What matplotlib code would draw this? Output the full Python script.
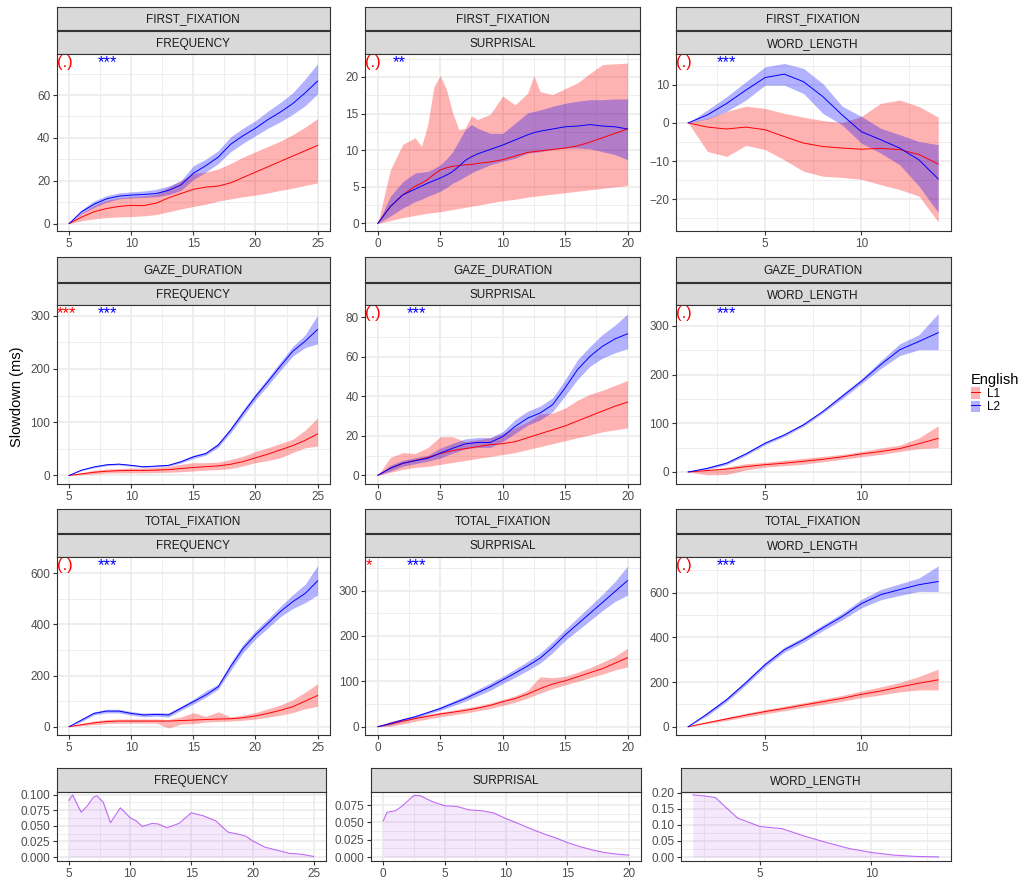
import numpy as np
import matplotlib.pyplot as plt
from matplotlib.lines import Line2D
from matplotlib.patches import Patch
from matplotlib.ticker import MultipleLocator, FormatStrFormatter

plt.rcParams['font.family'] = ['Liberation Sans', 'DejaVu Sans']

# ---------------- data ----------------
freq_x = list(range(5, 26))
surp_x = list(range(0, 21))
wlen_x = list(range(1, 15))
ff_surp_x = [0, 1, 2, 3, 3.5, 4, 4.5, 5, 5.5, 6, 6.5, 7, 7.5, 8, 9, 10, 11, 12, 12.5, 13, 14, 15, 16, 17, 18, 19, 20]

# FIRST_FIXATION
ff_freq_l1 = [0, 3, 5.5, 7, 8, 8.5, 8.4, 9.5, 12, 14, 16, 17, 17.5, 19, 21.5, 24, 26.5, 29, 31.5, 34, 36.5]
ff_freq_l1_lo = [0, 1.3, 2.2, 2.8, 3.1, 3.3, 3.6, 4.2, 5.5, 6.8, 8, 9, 10.5, 11.5, 12.5, 13.3, 14.3, 15.5, 16.5, 17.8, 19]
ff_freq_l1_hi = [0, 4.8, 8.5, 10.8, 12, 12.6, 13, 13.6, 17, 20, 23.5, 24, 25.5, 28, 31, 33.5, 36, 38.5, 41.5, 45, 49]
ff_freq_l2 = [0, 5.5, 9, 11.5, 12.8, 13.3, 13.6, 14, 15.5, 18, 23.5, 27, 31, 37, 41, 44.5, 48.5, 52, 56, 61, 66.5]
ff_freq_l2_lo = [0, 4.5, 7.5, 10, 11.5, 12, 12.2, 12.5, 13.5, 15.5, 20.5, 24, 28, 33.5, 37.5, 41, 44.5, 47.5, 51, 55, 60.5]
ff_freq_l2_hi = [0, 6.5, 10.5, 13, 14.3, 14.8, 15.2, 16, 17.5, 20, 27, 30, 34, 40.5, 44.5, 48, 52.5, 56.5, 61, 67.5, 74.5]

ff_surp_l1 = [0, 2.3, 3.9, 5.1, 5.5, 6, 6.7, 7.3, 7.6, 7.8, 7.9, 8, 8.05, 8.2, 8.4, 8.7, 9.2, 9.7, 9.8, 9.9, 10.1, 10.3, 10.6, 11.1, 11.7, 12.3, 12.9]
ff_surp_l1_lo = [0, 0.4, 0.8, 1.1, 1.25, 1.4, 1.5, 1.6, 1.75, 1.9, 2.05, 2.2, 2.35, 2.5, 2.8, 3.1, 3.3, 3.6, 3.7, 3.8, 4, 4.2, 4.4, 4.6, 4.8, 5, 5.2]
ff_surp_l1_hi = [0, 7.3, 10.8, 11.7, 10.5, 13.5, 18.7, 20.2, 18.3, 15.1, 12.8, 13, 14.7, 14.2, 14.9, 17.4, 16.2, 17.8, 20.2, 18, 17.6, 18.4, 19.2, 20.5, 21.7, 21.8, 21.9]
ff_surp_l2 = [0, 2.3, 3.9, 4.7, 5.1, 5.5, 5.85, 6.2, 6.6, 7.1, 7.8, 8.6, 9.1, 9.5, 10.1, 10.7, 11.4, 12.1, 12.4, 12.6, 12.9, 13.2, 13.3, 13.5, 13.3, 13.2, 12.9]
ff_surp_l2_lo = [0, 1, 2.1, 3, 3.3, 3.7, 4.05, 4.4, 4.9, 5.5, 5.9, 6.4, 6.9, 7.3, 8, 8.5, 8.9, 9.6, 9.7, 9.8, 10.1, 10.3, 10.3, 10.2, 9.8, 9.4, 8.7]
ff_surp_l2_hi = [0, 3.7, 5.7, 6.9, 7, 7.1, 7.5, 8, 8.8, 9.8, 11.3, 12.8, 13.5, 13, 12.3, 12.3, 13.7, 15.1, 15.3, 15.5, 16, 16.4, 16.7, 16.9, 16.9, 17, 17]

ff_wlen_l1 = [0, -1.1, -1.6, -1.1, -1.8, -3.6, -5.3, -6.2, -6.6, -6.9, -6.7, -7, -8.3, -10.8]
ff_wlen_l1_lo = [0, -7.5, -8.8, -5.9, -7, -9.7, -12.7, -14, -14.3, -14.8, -16.2, -17.5, -19.2, -26]
ff_wlen_l1_hi = [0, 1.2, 3, 4.4, 3.8, 2.5, 1.5, 0.6, 0.1, 1.7, 5.1, 6, 4.3, 1.5]
ff_wlen_l2 = [0, 2.1, 5.1, 8.6, 11.9, 12.8, 10.8, 6.9, 2.1, -2.3, -4.4, -6.6, -9.7, -14.7]
ff_wlen_l2_lo = [0, 1, 3, 6, 9.9, 9.9, 7.7, 2.5, -0.5, -5.3, -7.9, -11, -16.6, -23.5]
ff_wlen_l2_hi = [0, 3.4, 6.9, 10.8, 14.7, 15.6, 14.3, 10.3, 4.4, 1.7, -1.4, -3.1, -4.9, -5.7]

# GAZE_DURATION
gd_freq_l1 = [0, 3, 6, 8, 9, 9.5, 9.5, 10, 11, 13, 15, 16.5, 18, 21, 26, 33, 40, 48, 56, 66, 78]
gd_freq_l1_lo = [0, 1.5, 3, 4.5, 5, 5, 5, 5.5, 6, 7, 8.5, 10, 11, 13, 18, 24, 28, 33, 43, 52, 55]
gd_freq_l1_hi = [0, 5, 10, 12, 13, 14, 14, 15, 17, 21, 24, 24, 25, 30, 36, 45, 52, 60, 68, 85, 108]
gd_freq_l2 = [0, 10, 16, 20, 21.3, 19, 16.3, 17.6, 19, 25.7, 35, 41, 57, 85, 117, 148, 176, 205, 233, 252, 274]
gd_freq_l2_lo = [0, 9, 14.5, 18.5, 19.8, 17.5, 15, 16, 17.5, 23.5, 32, 38, 53, 80, 111, 142, 169, 197, 224, 240, 247]
gd_freq_l2_hi = [0, 11, 17.5, 21.5, 22.8, 20.5, 17.5, 19, 21, 28.5, 38, 44, 61, 90, 123, 154, 183, 213, 242, 264, 301]

gd_surp_l1 = [0, 3.5, 6, 7.5, 9, 11, 12.5, 13.5, 14.5, 15.5, 16, 17, 19, 21, 23, 25, 27.5, 30, 32.5, 35, 37]
gd_surp_l1_lo = [0, 1.5, 3, 4, 4.5, 5.5, 6.5, 7.5, 8.5, 9.5, 10.5, 11.5, 13, 14.5, 16, 17.5, 19, 20.5, 22, 23, 24]
gd_surp_l1_hi = [0, 9, 11.5, 11, 14, 19.5, 19.5, 17, 18, 19, 21, 24, 27, 31, 31.5, 34, 38, 41, 43, 45.5, 48]
gd_surp_l2 = [0, 3.6, 6.1, 7.4, 8.6, 11.2, 13.7, 15.9, 16.6, 16.6, 19.6, 24.7, 28.9, 31.5, 35.7, 44.2, 53.5, 60.2, 65.3, 69, 71.6]
gd_surp_l2_lo = [0, 2.1, 4.6, 5.9, 7.1, 8.7, 11.2, 13.4, 14.1, 14.1, 17.1, 21.2, 25.4, 28, 32.2, 40.2, 48.5, 55.2, 59.3, 62, 64]
gd_surp_l2_hi = [0, 5.1, 7.6, 8.9, 10.1, 13.7, 16.2, 18.4, 19.1, 19.1, 22.1, 28.2, 32.4, 35, 39.2, 48.2, 58.5, 65.2, 71.3, 76, 81.6]

gd_wlen_l1 = [0, 3, 6, 11, 15, 18, 22, 26, 31, 37, 42, 48, 58, 69]
gd_wlen_l1_lo = [0, -6, -5, 4, 10, 13, 16, 21, 26, 31, 36, 42, 48, 50]
gd_wlen_l1_hi = [0, 4, 10, 17, 20, 24, 28, 32, 36, 42, 49, 55, 70, 95]
gd_wlen_l2 = [0, 7.5, 18, 37, 59, 76, 97, 124, 155, 186, 220, 251, 268, 286]
gd_wlen_l2_lo = [0, 5, 15, 34, 56, 73, 94, 121, 150, 181, 212, 239, 251, 251]
gd_wlen_l2_hi = [0, 10, 21, 40, 62, 79, 100, 127, 160, 191, 228, 263, 282, 325]

# TOTAL_FIXATION
tf_freq_l1 = [0, 8, 15, 20, 22, 22, 22, 22, 22, 24, 26, 28, 30, 31, 35, 42, 52, 64, 78, 100, 122]
tf_freq_l1_lo = [0, 4, 8, 12, 14, 14, 14, 14, -5, 10, 12, 18, 20, 22, 25, 30, 37, 45, 55, 70, 80]
tf_freq_l1_hi = [0, 12, 22, 28, 30, 30, 30, 30, 28, 38, 55, 40, 58, 38, 45, 55, 70, 85, 105, 135, 168]
tf_freq_l2 = [0, 26, 52, 61, 61, 52, 46, 48, 46, 72, 98, 124, 156, 235, 306, 359, 404, 450, 489, 521, 570]
tf_freq_l2_lo = [0, 20, 46, 54, 54, 45, 39, 41, 38, 64, 89, 115, 146, 220, 290, 343, 386, 430, 462, 485, 515]
tf_freq_l2_hi = [0, 32, 58, 68, 68, 59, 53, 55, 54, 80, 107, 140, 166, 250, 322, 375, 422, 470, 516, 557, 630]

tf_surp_l1 = [0, 6, 12, 18, 23, 28, 32, 36, 41, 47, 55, 62, 72, 84, 94, 101, 110, 119, 128, 140, 152]
tf_surp_l1_lo = [0, 1, 6, 12, 17, 22, 26, 30, 35, 40, 47, 54, 63, 74, 84, 92, 100, 108, 116, 125, 132]
tf_surp_l1_hi = [0, 12, 17, 22, 27, 32, 36, 41, 46, 52, 60, 68, 80, 110, 108, 111, 120, 130, 142, 155, 173]
tf_surp_l2 = [0, 7, 15, 22, 31, 40, 51, 62, 75, 88, 103, 118, 134, 151, 175, 202, 226, 250, 274, 298, 322]
tf_surp_l2_lo = [0, 4, 12, 19, 28, 36, 46, 56, 68, 80, 95, 109, 124, 140, 163, 190, 212, 234, 256, 276, 290]
tf_surp_l2_hi = [0, 10, 18, 25, 34, 44, 56, 68, 82, 96, 111, 127, 144, 162, 187, 214, 240, 266, 292, 320, 354]

tf_wlen_l1 = [0, 18, 35, 52, 68, 82, 97, 112, 127, 145, 160, 178, 195, 210]
tf_wlen_l1_lo = [0, 14, 28, 44, 58, 72, 86, 100, 114, 130, 142, 156, 165, 165]
tf_wlen_l1_hi = [0, 22, 42, 60, 77, 92, 108, 124, 140, 160, 178, 198, 225, 258]
tf_wlen_l2 = [0, 58, 121, 197, 278, 345, 390, 443, 493, 551, 591, 614, 636, 650]
tf_wlen_l2_lo = [0, 50, 112, 187, 268, 334, 378, 430, 478, 532, 568, 588, 606, 605]
tf_wlen_l2_hi = [0, 66, 130, 207, 288, 356, 402, 456, 508, 570, 614, 640, 666, 720]

# densities of the predictors
dens_freq_x = [5, 5.3, 6, 6.5, 7, 7.3, 7.8, 8.4, 9.2, 10, 10.5, 11, 11.8, 12.3, 13, 14, 15, 16, 17, 18, 19, 19.5, 20, 21, 22, 23, 24, 25]
dens_freq_y = [0.091, 0.0995, 0.072, 0.082, 0.096, 0.098, 0.088, 0.055, 0.079, 0.063, 0.058, 0.049, 0.054, 0.053, 0.047,
               0.054, 0.071, 0.066, 0.058, 0.04, 0.036, 0.033, 0.026, 0.016, 0.011, 0.006, 0.0045, 0.001]
dens_surp_x = [0, 0.3, 1, 1.5, 2.5, 3, 4, 5, 6, 7, 8, 9, 10, 11, 12, 13, 14, 15, 16, 17, 18, 19, 20]
dens_surp_y = [0.052, 0.0645, 0.067, 0.073, 0.089, 0.0887, 0.08, 0.074, 0.073, 0.068, 0.067, 0.0636, 0.0555, 0.0484,
               0.041, 0.034, 0.028, 0.0209, 0.0152, 0.0104, 0.0066, 0.0043, 0.0028]
dens_wlen_x = [2, 2.5, 3, 4, 5, 6, 7, 8, 9, 10, 11, 12, 13]
dens_wlen_y = [0.193, 0.19, 0.185, 0.121, 0.095, 0.088, 0.065, 0.045, 0.0265, 0.0143, 0.0061, 0.002, 0.0005]

measures = ['FIRST_FIXATION', 'GAZE_DURATION', 'TOTAL_FIXATION']
predictors = ['FREQUENCY', 'SURPRISAL', 'WORD_LENGTH']
signif = [[('(.)', '***'), ('(.)', '**'), ('(.)', '***')],
          [('***', '***'), ('(.)', '***'), ('(.)', '***')],
          [('(.)', '***'), ('*', '***'), ('(.)', '***')]]

panels = [
    [(freq_x, ff_freq_l1, ff_freq_l1_lo, ff_freq_l1_hi, ff_freq_l2, ff_freq_l2_lo, ff_freq_l2_hi),
     (ff_surp_x, ff_surp_l1, ff_surp_l1_lo, ff_surp_l1_hi, ff_surp_l2, ff_surp_l2_lo, ff_surp_l2_hi),
     (wlen_x, ff_wlen_l1, ff_wlen_l1_lo, ff_wlen_l1_hi, ff_wlen_l2, ff_wlen_l2_lo, ff_wlen_l2_hi)],
    [(freq_x, gd_freq_l1, gd_freq_l1_lo, gd_freq_l1_hi, gd_freq_l2, gd_freq_l2_lo, gd_freq_l2_hi),
     (surp_x, gd_surp_l1, gd_surp_l1_lo, gd_surp_l1_hi, gd_surp_l2, gd_surp_l2_lo, gd_surp_l2_hi),
     (wlen_x, gd_wlen_l1, gd_wlen_l1_lo, gd_wlen_l1_hi, gd_wlen_l2, gd_wlen_l2_lo, gd_wlen_l2_hi)],
    [(freq_x, tf_freq_l1, tf_freq_l1_lo, tf_freq_l1_hi, tf_freq_l2, tf_freq_l2_lo, tf_freq_l2_hi),
     (surp_x, tf_surp_l1, tf_surp_l1_lo, tf_surp_l1_hi, tf_surp_l2, tf_surp_l2_lo, tf_surp_l2_hi),
     (wlen_x, tf_wlen_l1, tf_wlen_l1_lo, tf_wlen_l1_hi, tf_wlen_l2, tf_wlen_l2_lo, tf_wlen_l2_hi)],
]

# ---------------- layout (pixel boxes) ----------------
W, H = 1026, 880
fig = plt.figure(figsize=(W / 100, H / 100), dpi=100)

rows_px = [(7, 30.5, 54.3, 231.5), (257, 281.7, 305.5, 484), (509, 532.7, 557, 735)]
cols_px = [(56.7, 330), (365.3, 640), (675.7, 950.7)]
dens_cols_px = [(56.7, 326), (371, 641), (680.7, 950.7)]

xlims = [(4, 26), (-1, 21), (0.35, 14.65)]
dens_xlims = [(4, 26), (-1, 21), (1.45, 13.55)]
xstep = [5, 5, 5]
ylims = [[(-3.7, 79), (-1.1, 23.1), (-28.5, 18.0)],
         [(-16, 319), (-4.4, 85.9), (-24.7, 341.8)],
         [(-32.5, 663.7), (-18.3, 374), (-37, 760)]]
ysteps = [[20, 5, 10], [100, 20, 100], [200, 100, 200]]

RED, BLUE, PURPLE = '#FF0000', '#0000FF', '#A020F0'
GRID = '#EBEBEB'


def px_axes(l, t, r, b):
    return fig.add_axes([l / W, 1 - b / H, (r - l) / W, (b - t) / H])


def strip(l, t, r, b, label):
    s = px_axes(l, t, r, b)
    s.set_facecolor('#D9D9D9')
    s.set_xticks([])
    s.set_yticks([])
    for sp in s.spines.values():
        sp.set_color('#333333')
        sp.set_linewidth(0.8)
    s.text(0.5, 0.47, label, ha='center', va='center', fontsize=8.5, color='#1A1A1A', transform=s.transAxes)


def style(ax, xlim, ylim, xs, ys):
    ax.set_xlim(xlim)
    ax.set_ylim(ylim)
    ax.xaxis.set_major_locator(MultipleLocator(xs))
    ax.xaxis.set_minor_locator(MultipleLocator(xs / 2))
    ax.yaxis.set_major_locator(MultipleLocator(ys))
    ax.yaxis.set_minor_locator(MultipleLocator(ys / 2))
    ax.grid(which='major', color=GRID, lw=1.2)
    ax.grid(which='minor', color=GRID, lw=0.6)
    ax.set_axisbelow(True)
    ax.tick_params(which='minor', length=0)
    ax.tick_params(which='major', length=2.7, width=0.8, color='#333333', labelsize=8.5, labelcolor='#4D4D4D', pad=2)
    for sp in ax.spines.values():
        sp.set_color('#333333')
        sp.set_linewidth(0.8)


for i, (t1, b1, t2, b2) in enumerate(rows_px):
    for j, (l, r) in enumerate(cols_px):
        strip(l, t1, r, b1, measures[i])
        strip(l, b1 + 1, r, t2, predictors[j])
        ax = px_axes(l, t2, r, b2)
        x, m1, lo1, hi1, m2, lo2, hi2 = panels[i][j]
        ax.fill_between(x, lo1, hi1, color=RED, alpha=0.3, lw=0)
        ax.fill_between(x, lo2, hi2, color=BLUE, alpha=0.3, lw=0)
        ax.plot(x, m1, color=RED, lw=0.7)
        ax.plot(x, m2, color=BLUE, lw=0.7)
        style(ax, xlims[j], ylims[i][j], xstep[j], ysteps[i][j])
        red_txt, blue_txt = signif[i][j]
        ax.text(0.0, 0.995, red_txt, transform=ax.transAxes, ha='left', va='top', color=RED, fontsize=12)
        bx = 0.185 if blue_txt == '***' else 0.124
        ax.text(bx, 0.995, blue_txt, transform=ax.transAxes, ha='center', va='top', color=BLUE, fontsize=12)

dens = [(dens_freq_x, dens_freq_y), (dens_surp_x, dens_surp_y), (dens_wlen_x, dens_wlen_y)]
dens_ylims = [(-0.0063, 0.1043), (-0.0057, 0.0939), (-0.0122, 0.202)]
dens_ysteps = [0.025, 0.025, 0.05]
dens_fmt = ['%.3f', '%.3f', '%.2f']
for j, (l, r) in enumerate(dens_cols_px):
    strip(l, 768, r, 792, predictors[j])
    ax = px_axes(l, 792, r, 861)
    dx, dy = dens[j]
    ax.fill_between(dx, 0, dy, color=PURPLE, alpha=0.1, lw=0)
    ax.plot(dx, dy, color=PURPLE, alpha=0.65, lw=0.8)
    style(ax, dens_xlims[j], dens_ylims[j], 5, dens_ysteps[j])
    ax.yaxis.set_major_formatter(FormatStrFormatter(dens_fmt[j]))

fig.text(17 / W, 1 - 397 / H, 'Slowdown (ms)', rotation=90, ha='center', va='center', fontsize=10.5)

handles = [(Patch(facecolor=RED, alpha=0.3, lw=0), Line2D([], [], color=RED, lw=0.7)),
           (Patch(facecolor=BLUE, alpha=0.3, lw=0), Line2D([], [], color=BLUE, lw=0.7))]
fig.legend(handles, ['L1', 'L2'], title='English', loc='upper left', bbox_to_anchor=(966 / W, 1 - 368 / H),
           frameon=False, fontsize=8.5, title_fontsize=10.5, handlelength=0.8, handleheight=1.1,
           labelspacing=0.05, handletextpad=0.6, alignment='left', borderaxespad=0)

fig.savefig('out.png', dpi=100)
